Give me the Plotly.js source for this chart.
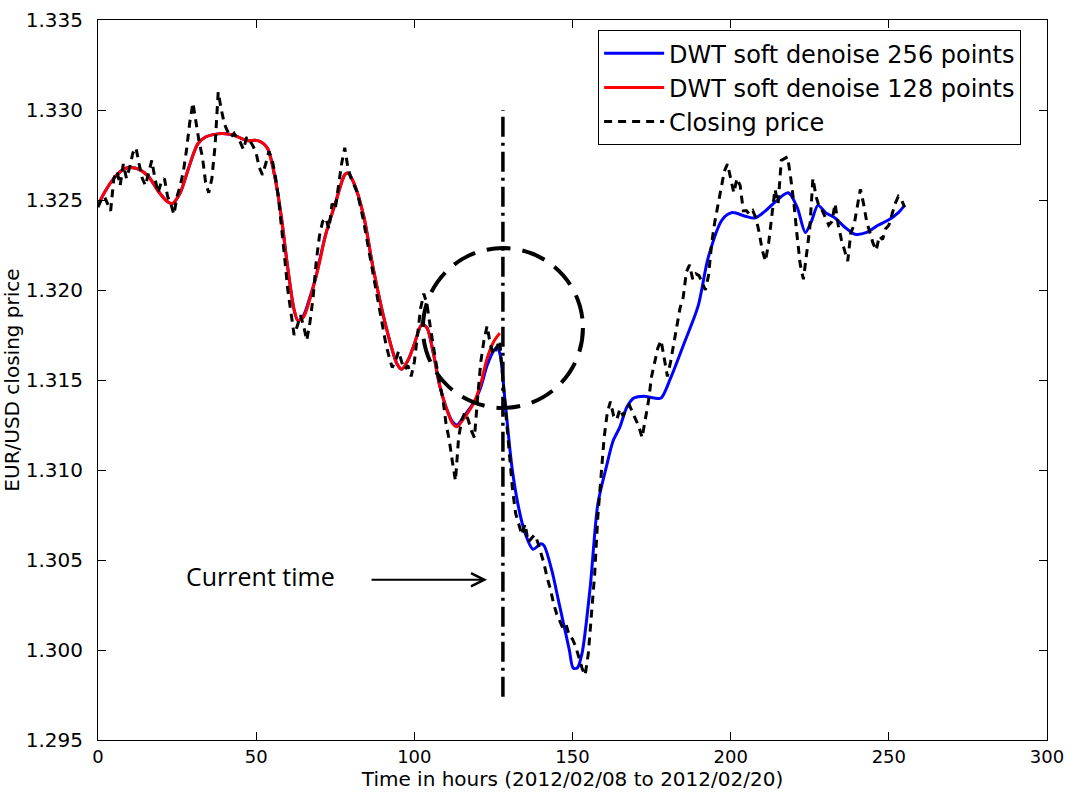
<!DOCTYPE html>
<html>
<head>
<meta charset="utf-8">
<script src="https://cdn.plot.ly/plotly-3.0.1.min.js"></script>
<style>html,body{margin:0;padding:0;background:#fff;}#chart{width:1068px;height:792px;}</style>
</head>
<body>
<div id="chart"></div>
<script>
// Closing price, hourly (hours 0..255)
const closingPrice = [
1.3246,1.3250,1.3252,1.3248,1.3244,1.3262,1.3266,1.3258,1.3270,1.3262,
1.3268,1.3276,1.3279,1.3270,1.3262,1.3258,1.3265,1.3272,1.3262,1.3254,
1.3260,1.3262,1.3252,1.3248,1.3242,1.3252,1.3258,1.3266,1.3278,1.3293,
1.3304,1.3292,1.3282,1.3274,1.3260,1.3254,1.3262,1.3280,1.3310,1.3300,
1.3292,1.3288,1.3285,1.3287,1.3284,1.3282,1.3278,1.3285,1.3283,1.3280,
1.3276,1.3268,1.3264,1.3270,1.3277,1.3273,1.3264,1.3252,1.3236,1.3218,
1.3200,1.3186,1.3175,1.3180,1.3186,1.3180,1.3172,1.3182,1.3196,1.3216,
1.3230,1.3238,1.3240,1.3234,1.3248,1.3245,1.3258,1.3270,1.3279,1.3268,
1.3262,1.3258,1.3254,1.3246,1.3238,1.3228,1.3218,1.3208,1.3198,1.3190,
1.3180,1.3170,1.3163,1.3157,1.3160,1.3166,1.3160,1.3156,1.3158,1.3152,
1.3160,1.3176,1.3190,1.3198,1.3192,1.3180,1.3168,1.3158,1.3148,1.3140,
1.3126,1.3117,1.3105,1.3094,1.3118,1.3128,1.3132,1.3128,1.3122,1.3118,
1.3140,1.3160,1.3172,1.3180,1.3170,1.3164,1.3168,1.3172,1.3150,1.3130,
1.3110,1.3090,1.3076,1.3070,1.3064,1.3070,1.3060,1.3062,1.3064,1.3060,
1.3054,1.3048,1.3040,1.3034,1.3026,1.3020,1.3016,1.3012,1.3014,1.3008,
1.3006,1.3002,1.2996,1.2990,1.2986,1.2998,1.3020,1.3042,1.3074,1.3098,
1.3118,1.3132,1.3138,1.3130,1.3128,1.3134,1.3130,1.3134,1.3136,1.3132,
1.3128,1.3124,1.3118,1.3128,1.3138,1.3152,1.3160,1.3168,1.3172,1.3162,
1.3152,1.3160,1.3170,1.3182,1.3190,1.3196,1.3210,1.3214,1.3206,1.3209,
1.3208,1.3204,1.3200,1.3208,1.3226,1.3238,1.3248,1.3258,1.3266,1.3270,
1.3262,1.3254,1.3262,1.3258,1.3244,1.3244,1.3242,1.3244,1.3240,1.3232,
1.3222,1.3216,1.3226,1.3240,1.3256,1.3248,1.3272,1.3273,1.3274,1.3262,
1.3248,1.3230,1.3214,1.3206,1.3220,1.3234,1.3262,1.3252,1.3246,1.3244,
1.3240,1.3236,1.3238,1.3248,1.3236,1.3228,1.3222,1.3216,1.3232,1.3236,
1.3246,1.3256,1.3248,1.3238,1.3232,1.3226,1.3222,1.3230,1.3228,1.3234,
1.3236,1.3242,1.3248,1.3252,1.3250,1.3246
];
const hours = closingPrice.map((_, i) => i);

// DWT soft denoise, 128 points (red)
const red128Hours = [0,2,5,8,10,13,16,19,22,23.5,26,28.5,31.5,34,39,43,47,50.5,53.5,56,58,60,62,63.2,65,67,69,70,72,75,78,79,81,84,87,91,94.5,96,98,100,102.4,104,106,108,110,112,113.5,115,117,119,121,123,125,127];
const red128Values = [1.3247,1.3254,1.3262,1.3267,1.3268,1.3267,1.3263,1.3255,1.3249,1.3248,1.3254,1.3267,1.3281,1.3285,1.3287,1.3286,1.3283,1.3283,1.3279,1.3262,1.3240,1.3212,1.3189,1.3183,1.3185,1.3195,1.3208,1.3215,1.3231,1.3248,1.3264,1.3265,1.3259,1.3241,1.3212,1.3180,1.3159,1.3156,1.3161,1.3170,1.3181,1.3179,1.3165,1.3147,1.3135,1.3126,1.3124,1.3127,1.3132,1.3138,1.3148,1.3162,1.3171,1.3176];

// DWT soft denoise, 256 points (blue)
const blue256Hours = [0,2,5,8,10,13,16,19,22,23.5,26,28.5,31.5,34,39,43,47,50.5,53.5,56,58,60,62,63.2,65,67,69,70,72,75,78,79,81,84,87,91,94.5,96,98,100,102.4,104,106,108,110,112,113.5,115,117,119,121,123,125,126.1,127,128.7,130.9,133.1,135,137.5,140,141,143.5,145.5,147,149,150.2,151.5,153,155.6,158,160.6,162.8,165,167.2,169.4,172.6,175.8,178,181,185.2,189.7,192.9,197.3,200.5,204.6,207.7,211,214.1,218.2,221,223.6,225.5,227.6,230,233,236,239.3,243,246.6,250,253,255];
const blue256Values = [1.3247,1.3254,1.3262,1.3267,1.3268,1.3267,1.3263,1.3255,1.3249,1.3248,1.3254,1.3267,1.3281,1.3285,1.3287,1.3286,1.3283,1.3283,1.3279,1.3262,1.3240,1.3212,1.3189,1.3183,1.3186,1.3196,1.3208,1.3216,1.3231,1.3248,1.3264,1.3265,1.3259,1.3241,1.3212,1.3180,1.3159,1.3156,1.3161,1.3170,1.3181,1.3179,1.3165,1.3147,1.3135,1.3127,1.3125,1.3128,1.3133,1.3138,1.3146,1.3158,1.3166,1.3168,1.3165,1.3138,1.3101,1.3078,1.3065,1.3056,1.3059,1.3058,1.3044,1.3028,1.3016,1.3000,1.2990,1.2990,1.2998,1.3035,1.3081,1.3101,1.3116,1.3124,1.3135,1.3140,1.3141,1.3140,1.3140,1.3151,1.3170,1.3191,1.3218,1.3239,1.3243,1.3241,1.3240,1.3244,1.3249,1.3254,1.3246,1.3232,1.3238,1.3247,1.3243,1.3240,1.3235,1.3231,1.3232,1.3236,1.3239,1.3243,1.3247];

// Annotation values
const currentHour = [128, 128];
const currentLineY = [1.2974, 1.3300];
const circleCenter = {x: 128, y: 1.31789};
const circleRadius = {x: 25.3, y: 0.00444};
const arrowFrom = {x: 86, y: 1.3039};
const arrowTo = {x: 123, y: 1.3039};
const labelPos = {x: 51.5, y: 1.3041};

const xTicks = [0, 50, 100, 150, 200, 250, 300];
const yTicks = [1.295, 1.300, 1.305, 1.310, 1.315, 1.320, 1.325, 1.330, 1.335];

const traces = [
  {x: blue256Hours, y: blue256Values, type: 'scatter', mode: 'lines', name: 'DWT soft denoise 256 points',
   line: {color: '#0000ff', width: 3, shape: 'spline', smoothing: 0.8}},
  {x: red128Hours, y: red128Values, type: 'scatter', mode: 'lines', name: 'DWT soft denoise 128 points',
   line: {color: '#ff0000', width: 3, shape: 'spline', smoothing: 0.8}},
  {x: hours, y: closingPrice, type: 'scatter', mode: 'lines', name: 'Closing price',
   line: {color: '#000000', width: 3, dash: '8px,6px'}},
  {x: currentHour, y: currentLineY, type: 'scatter', mode: 'lines', showlegend: false, hoverinfo: 'skip',
   line: {color: '#000000', width: 3.5, dash: '20px,6px,3px,6px'}}
];

const layout = {
  width: 1068, height: 792,
  paper_bgcolor: '#ffffff', plot_bgcolor: '#ffffff',
  margin: {l: 98, r: 21, t: 20, b: 52},
  font: {family: 'DejaVu Sans', size: 18, color: '#000'},
  showlegend: true,
  legend: {x: 0.527, y: 0.986, xanchor: 'left', yanchor: 'top', bgcolor: '#fff', itemwidth: 60,
    bordercolor: '#000', borderwidth: 1, font: {family: 'DejaVu Sans', size: 24, color: '#000'}},
  xaxis: {range: [0, 300], tickvals: xTicks, ticktext: xTicks.map(String), showgrid: false, zeroline: false,
    showline: true, linecolor: '#000', linewidth: 1, mirror: 'ticks', ticks: 'inside', ticklen: 8, tickcolor: '#000',
    tickfont: {family: 'DejaVu Sans', size: 18},
    title: {text: 'Time in hours (2012/02/08 to 2012/02/20)', font: {family: 'DejaVu Sans', size: 20}, standoff: 2}},
  yaxis: {range: [1.295, 1.335], tickvals: yTicks, ticktext: yTicks.map(v => v.toFixed(3)), showgrid: false, zeroline: false,
    showline: true, linecolor: '#000', linewidth: 1, mirror: 'ticks', ticks: 'inside', ticklen: 8, tickcolor: '#000',
    tickfont: {family: 'DejaVu Sans', size: 20}, ticklabelstandoff: 10,
    title: {text: 'EUR/USD closing price', font: {family: 'DejaVu Sans', size: 20}, standoff: 2}},
  shapes: [
    {type: 'circle', xref: 'x', yref: 'y',
     x0: circleCenter.x - circleRadius.x, x1: circleCenter.x + circleRadius.x,
     y0: circleCenter.y - circleRadius.y, y1: circleCenter.y + circleRadius.y,
     line: {color: '#000', width: 4, dash: '24px,12px'}}
  ],
  annotations: [
    {x: arrowTo.x, y: arrowTo.y, ax: arrowFrom.x, ay: arrowFrom.y, xref: 'x', yref: 'y', axref: 'x', ayref: 'y',
     text: '', showarrow: true, arrowhead: 5, arrowsize: 1.3, arrowwidth: 2, arrowcolor: '#000'},
    {x: labelPos.x, y: labelPos.y, xref: 'x', yref: 'y', text: 'Current time', showarrow: false,
     font: {family: 'Open Sans', size: 25, color: '#000'}}
  ]
};

Plotly.newPlot('chart', traces, layout, {displayModeBar: false});
</script>
</body>
</html>
